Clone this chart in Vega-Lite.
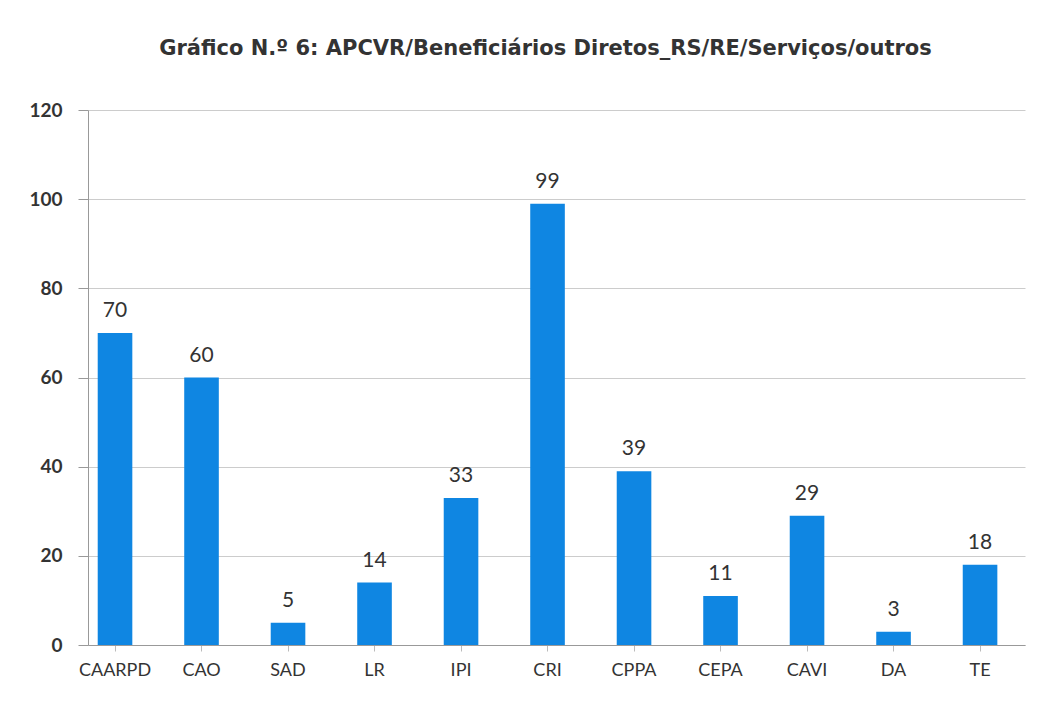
{
  "$schema": "https://vega.github.io/schema/vega-lite/v6.json",
  "autosize": {"type": "none"},
  "padding": {"left": 88, "top": 110, "right": 17, "bottom": 59},
  "width": 937,
  "height": 535,
  "background": "white",
  "title": {
    "text": "Gráfico N.º 6: APCVR/Beneficiários Diretos_RS/RE/Serviços/outros",
    "font": "DejaVu Sans",
    "fontSize": 21,
    "fontWeight": "bold",
    "color": "#333333",
    "anchor": "middle",
    "dx": -11,
    "offset": 42
  },
  "data": {
    "values": [
      {"categoria": "CAARPD", "valor": 70},
      {"categoria": "CAO", "valor": 60},
      {"categoria": "SAD", "valor": 5},
      {"categoria": "LR", "valor": 14},
      {"categoria": "IPI", "valor": 33},
      {"categoria": "CRI", "valor": 99},
      {"categoria": "CPPA", "valor": 39},
      {"categoria": "CEPA", "valor": 11},
      {"categoria": "CAVI", "valor": 29},
      {"categoria": "DA", "valor": 3},
      {"categoria": "TE", "valor": 18}
    ]
  },
  "encoding": {
    "x": {
      "field": "categoria",
      "type": "nominal",
      "sort": null,
      "scale": {"paddingInner": 0.6, "paddingOuter": 0.216, "align": 0.26},
      "axis": {
        "title": null,
        "labelAngle": 0,
        "labelFont": "Lato",
        "labelFontSize": 18,
        "labelColor": "#333333",
        "labelPadding": 10,
        "domainColor": "#999999",
        "tickColor": "#bbbbbb",
        "tickSize": 6,
        "ticks": true
      }
    },
    "y": {
      "field": "valor",
      "type": "quantitative",
      "scale": {"domain": [0, 120]},
      "axis": {
        "title": null,
        "values": [0, 20, 40, 60, 80, 100, 120],
        "labelFont": "Lato",
        "labelFontSize": 19,
        "labelFontWeight": "bold",
        "labelColor": "#333333",
        "labelPadding": 16,
        "gridColor": "#cccccc",
        "domainColor": "#999999",
        "tickColor": "#999999",
        "tickSize": 10
      }
    }
  },
  "layer": [
    {"mark": {"type": "bar", "color": "#0f86e2"}},
    {
      "mark": {"type": "text", "dy": -22, "font": "Lato", "fontSize": 21, "color": "#333333"},
      "encoding": {"text": {"field": "valor", "type": "quantitative"}}
    }
  ],
  "config": {"view": {"stroke": null}}
}
